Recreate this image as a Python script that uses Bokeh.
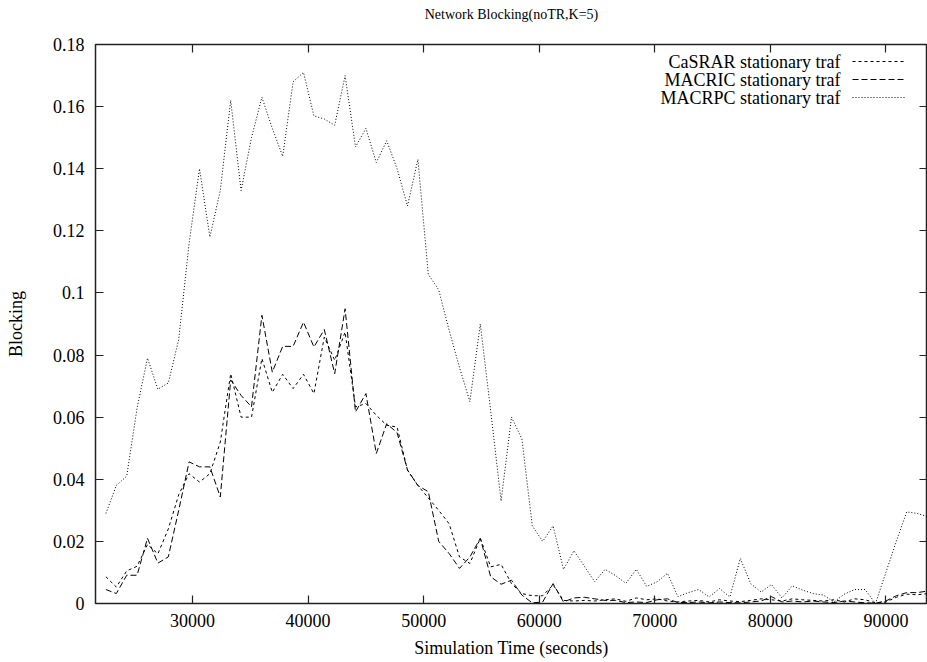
from bokeh.plotting import figure
from bokeh.models import Range1d, LinearAxis, FixedTicker, Legend, LegendItem, Label
from bokeh.embed import file_html
from bokeh.resources import INLINE

# simulation time samples (seconds)
time_s = list(range(22500, 93601, 900))

casrar = [0.0086, 0.0053, 0.0105, 0.012, 0.019, 0.016, 0.024, 0.035, 0.0418, 0.0391,
          0.0418, 0.052, 0.074, 0.060, 0.060, 0.0789, 0.068, 0.0738, 0.0692, 0.0738,
          0.0676, 0.0858, 0.0783, 0.0874, 0.0633, 0.0644, 0.0606, 0.0574, 0.0568, 0.0429,
          0.038, 0.034, 0.030, 0.0257, 0.015, 0.0129, 0.021, 0.0118, 0.0126, 0.0064,
          0.0032, 0.0025, 0.0025, 0.006, 0.001, 0.0008, 0.001, 0.0008, 0.0012, 0.0015,
          0.0007, 0.0018, 0.0012, 0.0015, 0.0008, 0.0005, 0.0008, 0.001, 0.0005, 0.0012,
          0.0008, 0.0006, 0.001, 0.0015, 0.0012, 0.0008, 0.0015, 0.0012, 0.001, 0.0008,
          0.0012, 0.0005, 0.0015, 0.0012, 0.0002, 0.0005, 0.002, 0.003, 0.0028, 0.0032]

macric = [0.0045, 0.0032, 0.0091, 0.0091, 0.021, 0.013, 0.015, 0.030, 0.0456, 0.044,
          0.044, 0.0343, 0.072, 0.067, 0.0633, 0.0928, 0.0745, 0.0828, 0.0828, 0.0906,
          0.0826, 0.0882, 0.074, 0.0949, 0.0617, 0.0676, 0.0483, 0.0579, 0.055, 0.043,
          0.038, 0.036, 0.020, 0.0161, 0.0113, 0.015, 0.021, 0.0086, 0.0062, 0.0075,
          0.0027, 0.0002, 0.0005, 0.0064, 0.0005, 0.0018, 0.002, 0.0015, 0.001, 0.001,
          0.0003, 0.0005, 0.0003, 0.0012, 0.0015, 0.0003, 0.0003, 0.0005, 0.0002, 0.0005,
          0.0003, 0.0002, 0.0005, 0.0008, 0.0022, 0.0005, 0.0008, 0.0005, 0.0008, 0.0005,
          0.0003, 0.0008, 0.0005, 0.0002, 0.0001, 0.0008, 0.0025, 0.0035, 0.0035, 0.004]

macrpc = [0.029, 0.038, 0.041, 0.063, 0.079, 0.069, 0.071, 0.085, 0.116, 0.140,
          0.118, 0.133, 0.162, 0.133, 0.150, 0.163, 0.153, 0.144, 0.168, 0.171,
          0.157, 0.156, 0.154, 0.170, 0.147, 0.153, 0.142, 0.149, 0.140, 0.128,
          0.143, 0.106, 0.101, 0.088, 0.076, 0.065, 0.090, 0.062, 0.033, 0.060,
          0.053, 0.025, 0.020, 0.025, 0.011, 0.017, 0.012, 0.007, 0.011, 0.009,
          0.0065, 0.011, 0.0055, 0.007, 0.0097, 0.0022, 0.0035, 0.0045, 0.0021, 0.0048,
          0.0021, 0.0145, 0.0064, 0.0037, 0.0061, 0.0018, 0.0057, 0.0043, 0.0032, 0.0027,
          0.0005, 0.003, 0.0045, 0.0045, 0.0, 0.010, 0.020, 0.0295, 0.029, 0.028]

series_names = ["CaSRAR stationary traf", "MACRIC stationary traf", "MACRPC stationary traf"]
title_text = "Network Blocking(noTR,K=5)"

x_ticks = [30000, 40000, 50000, 60000, 70000, 80000, 90000]
x_tick_labels = ["30000", "40000", "50000", "60000", "70000", "80000", "90000"]
y_ticks = [0, 0.02, 0.04, 0.06, 0.08, 0.1, 0.12, 0.14, 0.16, 0.18]
y_tick_labels = ["0", "0.02", "0.04", "0.06", "0.08", "0.1", "0.12", "0.14", "0.16", "0.18"]

FONT = "Liberation Serif"

p = figure(width=927, height=662, output_backend="svg", toolbar_location=None,
           x_range=Range1d(21600, 93600), y_range=Range1d(0, 0.18),
           min_border_left=95, min_border_right=0, min_border_top=44, min_border_bottom=59)

p.grid.visible = False
p.outline_line_color = "#222222"
p.outline_line_width = 1.5
p.background_fill_color = "white"
p.border_fill_color = "white"

def style_axis(ax, ticks, labels, show_labels, standoff=10):
    ax.ticker = FixedTicker(ticks=ticks)
    ax.major_tick_in = 8
    ax.major_tick_out = 0
    ax.major_tick_line_color = "#222222"
    ax.major_tick_line_width = 1.2
    ax.minor_tick_line_color = None
    ax.axis_line_color = None
    ax.major_label_text_font = FONT
    ax.major_label_text_color = "black"
    if show_labels:
        ax.major_label_overrides = {t: l for t, l in zip(ticks, labels)}
        ax.major_label_text_font_size = "18px"
        ax.major_label_standoff = standoff
    else:
        ax.major_label_overrides = {t: "" for t in ticks}
        ax.major_label_text_font_size = "1px"
        ax.major_label_standoff = 0

xa = p.xaxis[0]
ya = p.yaxis[0]
style_axis(xa, x_ticks, x_tick_labels, True, standoff=10)
style_axis(ya, y_ticks, y_tick_labels, True, standoff=11)
xa.axis_label = "Simulation Time (seconds)"
ya.axis_label = "Blocking"
for ax in (xa, ya):
    ax.axis_label_text_font = FONT
    ax.axis_label_text_font_size = "18px"
    ax.axis_label_text_font_style = "normal"
    ax.axis_label_text_color = "black"
xa.axis_label_standoff = 8
ya.axis_label_standoff = 24

# mirrored top axis; it also carries the chart title
top = LinearAxis()
style_axis(top, x_ticks, x_tick_labels, False)
top.axis_label = title_text
top.axis_label_text_font = FONT
top.axis_label_text_font_size = "14px"
top.axis_label_text_font_style = "normal"
top.axis_label_text_color = "black"
top.axis_label_standoff = 23
p.add_layout(top, "above")

right = LinearAxis()
style_axis(right, y_ticks, y_tick_labels, False)
p.add_layout(right, "right")

r1 = p.line(time_s, casrar, line_color="black", line_width=1, line_dash="3 3")
r2 = p.line(time_s, macric, line_color="black", line_width=1, line_dash="6 3")
r3 = p.line(time_s, macrpc, line_color="black", line_width=1, line_dash="1 2")

legend = Legend(items=[LegendItem(label="", renderers=[r]) for r in (r1, r2, r3)],
                location=(757, 497), glyph_width=53, glyph_height=18,
                label_width=0, label_height=18, label_standoff=0, spacing=0,
                padding=0, margin=0, border_line_color=None,
                background_fill_alpha=0, label_text_font_size="10px")
p.add_layout(legend)

label_y = [542, 523.8, 505.6]
for name, ly in zip(series_names, label_y):
    p.add_layout(Label(x=745, y=ly, x_units="screen", y_units="screen", text=name,
                       text_align="right", text_baseline="middle",
                       text_font=FONT, text_font_size="18px", text_color="black"))

open("out.html", "w").write(file_html(p, INLINE))
